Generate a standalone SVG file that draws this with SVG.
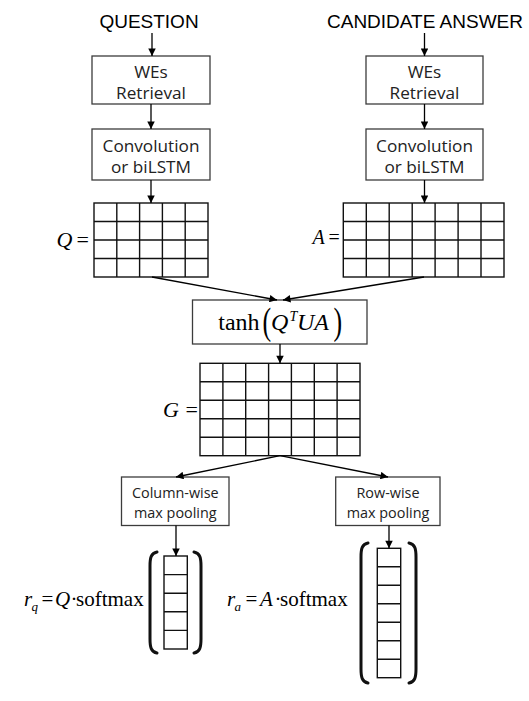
<svg xmlns="http://www.w3.org/2000/svg" width="529" height="701" viewBox="0 0 529 701">
<defs>
<marker id="ah" viewBox="0 0 10 10" refX="10" refY="5" markerWidth="8.5" markerHeight="7.5" markerUnits="userSpaceOnUse" orient="auto">
<path d="M0,0 L10,5 L0,10 z" fill="#000"/>
</marker>
</defs>
<style>
.box{fill:#fff;stroke:#3c3c3c;stroke-width:1.3}
.bt{font-family:"Open Sans","Noto Sans",sans-serif;font-size:17.2px;fill:#222;text-anchor:middle}
.pt{font-family:"Open Sans","Noto Sans",sans-serif;font-size:14.4px;fill:#222;text-anchor:middle}
.cap{font-family:"Liberation Sans",Arial,sans-serif;font-size:19px;fill:#000;text-anchor:middle}
.grid{fill:#fff;stroke:#111;stroke-width:1.4}
.gl{fill:none;stroke:#111;stroke-width:1.4}
.m{font-family:"Liberation Serif","Times New Roman",serif;font-size:22px;fill:#000}
.i{font-style:italic}
.conn{fill:none;stroke:#000;stroke-width:1.3;marker-end:url(#ah)}
.br{fill:none;stroke:#111;stroke-width:3;stroke-linecap:round}
</style>
<rect width="529" height="701" fill="#fff"/>

<g id="question">
<text class="cap" x="149" y="28">QUESTION</text>
</g>
<g id="candidate">
<text class="cap" x="425" y="28">CANDIDATE ANSWER</text>
</g>

<g id="we-q">
<rect class="box" x="92" y="56" width="118" height="48"/>
<text class="bt" x="151" y="77.5">WEs</text>
<text class="bt" x="151" y="98.5">Retrieval</text>
</g>
<g id="we-a">
<rect class="box" x="366" y="56" width="117" height="48"/>
<text class="bt" x="424.5" y="77.5">WEs</text>
<text class="bt" x="424.5" y="98.5">Retrieval</text>
</g>

<g id="conv-q">
<rect class="box" x="92" y="129" width="118" height="51"/>
<text class="bt" x="151" y="152">Convolution</text>
<text class="bt" x="151" y="173">or biLSTM</text>
</g>
<g id="conv-a">
<rect class="box" x="366" y="129" width="117" height="51"/>
<text class="bt" x="424.5" y="152">Convolution</text>
<text class="bt" x="424.5" y="173">or biLSTM</text>
</g>

<g id="matrix-q">
<text class="m i" x="56.5" y="247">Q</text>
<text class="m" x="76.5" y="247">=</text>
<rect class="grid" x="94" y="203" width="114" height="74"/>
<path class="gl" d="M116.8,203V277M139.6,203V277M162.4,203V277M185.2,203V277M94,221.5H208M94,240H208M94,258.5H208"/>
</g>

<g id="matrix-a">
<text class="m i" x="312.5" y="244" style="font-size:20px">A</text>
<text class="m" x="328.5" y="244" style="font-size:20px">=</text>
<rect class="grid" x="343.3" y="203" width="160.7" height="74"/>
<path class="gl" d="M366.3,203V277M389.2,203V277M412.2,203V277M435.1,203V277M458.1,203V277M481,203V277M343.3,221.5H504M343.3,240H504M343.3,258.5H504"/>
</g>

<g id="tanh">
<rect class="box" x="192.5" y="300" width="174.5" height="44"/>
<text class="m" x="218.3" y="330" style="font-size:24px">tanh</text>
<text class="m" transform="translate(262.5,334) scale(0.7,1.05)" style="font-size:37px">(</text>
<text class="m i" x="271" y="330" style="font-size:24px">Q</text>
<text class="m i" x="289.5" y="321" style="font-size:14px">T</text>
<text class="m i" x="297" y="330" style="font-size:24px">UA</text>
<text class="m" transform="translate(333.5,334) scale(0.7,1.05)" style="font-size:37px">)</text>
</g>

<g id="matrix-g">
<text class="m i" x="163" y="417">G</text>
<text class="m" x="185.5" y="417">=</text>
<rect class="grid" x="200" y="363.3" width="160" height="92.4"/>
<path class="gl" d="M222.9,363.3V455.7M245.7,363.3V455.7M268.6,363.3V455.7M291.4,363.3V455.7M314.3,363.3V455.7M337.1,363.3V455.7M200,381.8H360M200,400.3H360M200,418.8H360M200,437.2H360"/>
</g>

<g id="colpool">
<rect class="box" x="121.5" y="477" width="107.5" height="48.5"/>
<text class="pt" x="175.3" y="498">Column-wise</text>
<text class="pt" x="175.3" y="517.5">max pooling</text>
</g>
<g id="rowpool">
<rect class="box" x="335.7" y="477" width="104.3" height="48.5"/>
<text class="pt" x="388" y="498">Row-wise</text>
<text class="pt" x="388" y="517.5">max pooling</text>
</g>

<g id="rq">
<text class="m" y="606" style="font-size:21px"><tspan class="i" x="24">r</tspan><tspan class="i" x="31.5" y="610.5" style="font-size:13px">q</tspan><tspan x="41.5" y="606">=</tspan><tspan class="i" x="55">Q</tspan><tspan x="70.5">·</tspan><tspan x="76">softmax</tspan></text>
<path class="br" d="M157,552 C151,553 150,558 150,566 L150,639 C150,647 151,652 157,653"/>
<path class="br" d="M194,552 C200,553 201,558 201,566 L201,639 C201,647 200,652 194,653"/>
<rect class="grid" x="164" y="556" width="23.3" height="93"/>
<path class="gl" d="M164,574.6H187.3M164,593.2H187.3M164,611.8H187.3M164,630.4H187.3"/>
</g>

<g id="ra">
<text class="m" y="606" style="font-size:21px"><tspan class="i" x="227">r</tspan><tspan class="i" x="234.5" y="610.5" style="font-size:13px">a</tspan><tspan x="245.5" y="606">=</tspan><tspan class="i" x="260">A</tspan><tspan x="274.5">·</tspan><tspan x="280">softmax</tspan></text>
<path class="br" d="M368,543 C362,544 361,549 361,557 L361,669 C361,677 362,682 368,683"/>
<path class="br" d="M409,543 C415,544 416,549 416,557 L416,669 C416,677 415,682 409,683"/>
<rect class="grid" x="377.3" y="548.3" width="23.4" height="129.4"/>
<path class="gl" d="M377.3,566.8H400.7M377.3,585.3H400.7M377.3,603.8H400.7M377.3,622.3H400.7M377.3,640.8H400.7M377.3,659.2H400.7"/>
</g>

<g id="connectors">
<line class="conn" x1="152" y1="33" x2="152" y2="56"/>
<line class="conn" x1="424.5" y1="33" x2="424.5" y2="56"/>
<line class="conn" x1="151" y1="104" x2="151" y2="129"/>
<line class="conn" x1="424.5" y1="104" x2="424.5" y2="129"/>
<line class="conn" x1="151" y1="180" x2="151" y2="203"/>
<line class="conn" x1="424.5" y1="180" x2="424.5" y2="203"/>
<line class="conn" x1="152" y1="277" x2="277" y2="300"/>
<line class="conn" x1="424" y1="277" x2="283" y2="300"/>
<line class="conn" x1="280" y1="344" x2="280" y2="363.3"/>
<line class="conn" x1="280" y1="455.7" x2="176" y2="477"/>
<line class="conn" x1="280" y1="455.7" x2="388" y2="477"/>
<line class="conn" x1="176" y1="525.5" x2="176" y2="556"/>
<line class="conn" x1="389" y1="525.5" x2="389" y2="548.3"/>
</g>
</svg>
